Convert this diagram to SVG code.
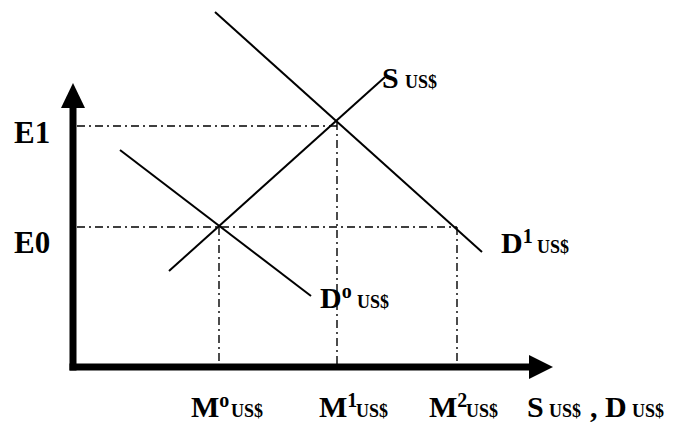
<svg xmlns="http://www.w3.org/2000/svg" width="674" height="425" viewBox="0 0 674 425">
<style>
.t{font-family:"Liberation Serif","Times New Roman",serif;font-weight:bold;fill:#000}
.big{font-size:30px}
.e{font-size:31px}
.sm{font-size:18px}
.sup{font-size:20px}
.curve{stroke:#000;stroke-width:2;fill:none}
.guide{stroke:#000;stroke-width:1.4;fill:none;stroke-dasharray:8 4 2 4}
.axis{stroke:#000;stroke-width:7;fill:none}
</style>
<rect width="674" height="425" fill="#fff"/>
<g id="guides">
<line class="guide" x1="77" y1="126" x2="337" y2="126"/>
<line class="guide" x1="77" y1="227" x2="457" y2="227"/>
<line class="guide" x1="219" y1="227" x2="219" y2="364"/>
<line class="guide" x1="337" y1="122" x2="337" y2="364"/>
<line class="guide" x1="457" y1="227" x2="457" y2="364"/>
</g>
<g id="axes">
<line class="axis" x1="73" y1="106" x2="73" y2="370.5"/>
<line class="axis" x1="69.5" y1="367" x2="530" y2="367"/>
<polygon points="73,83 61,108 85,108" fill="#000"/>
<polygon points="553,367 529,355 529,379" fill="#000"/>
</g>
<g id="S-curve"><line class="curve" x1="169" y1="271" x2="385" y2="77"/></g>
<g id="D0-curve"><line class="curve" x1="120" y1="150" x2="311" y2="296"/></g>
<g id="D1-curve"><line class="curve" x1="215" y1="12" x2="482" y2="252"/></g>
<g id="labels">
<text class="t e" x="14" y="143">E1</text>
<text class="t e" x="14" y="253">E0</text>
<text class="t" x="382" y="88"><tspan class="big">S</tspan><tspan class="sm" x="405">US$</tspan></text>
<text class="t" x="320" y="308"><tspan class="big">D</tspan><tspan class="sup" dy="-10">o</tspan><tspan class="sm" x="357" dy="10">US$</tspan></text>
<text class="t" x="501" y="253"><tspan class="big">D</tspan><tspan class="sup" dy="-10">1</tspan><tspan class="sm" x="537" dy="10">US$</tspan></text>
<text class="t" x="191" y="417"><tspan class="big">M</tspan><tspan class="sup" dy="-10">o</tspan><tspan class="sm" x="231" dy="10">US$</tspan></text>
<text class="t" x="319" y="417"><tspan class="big">M</tspan><tspan class="sup" dy="-10">1</tspan><tspan class="sm" x="356" dy="10">US$</tspan></text>
<text class="t" x="429" y="417"><tspan class="big">M</tspan><tspan class="sup" dy="-10">2</tspan><tspan class="sm" x="466" dy="10">US$</tspan></text>
<text class="t" x="527" y="417"><tspan class="big">S</tspan><tspan class="sm" x="549">US$</tspan><tspan class="big" x="590">,</tspan><tspan class="big" x="605">D</tspan><tspan class="sm" x="632">US$</tspan></text>
</g>
</svg>
